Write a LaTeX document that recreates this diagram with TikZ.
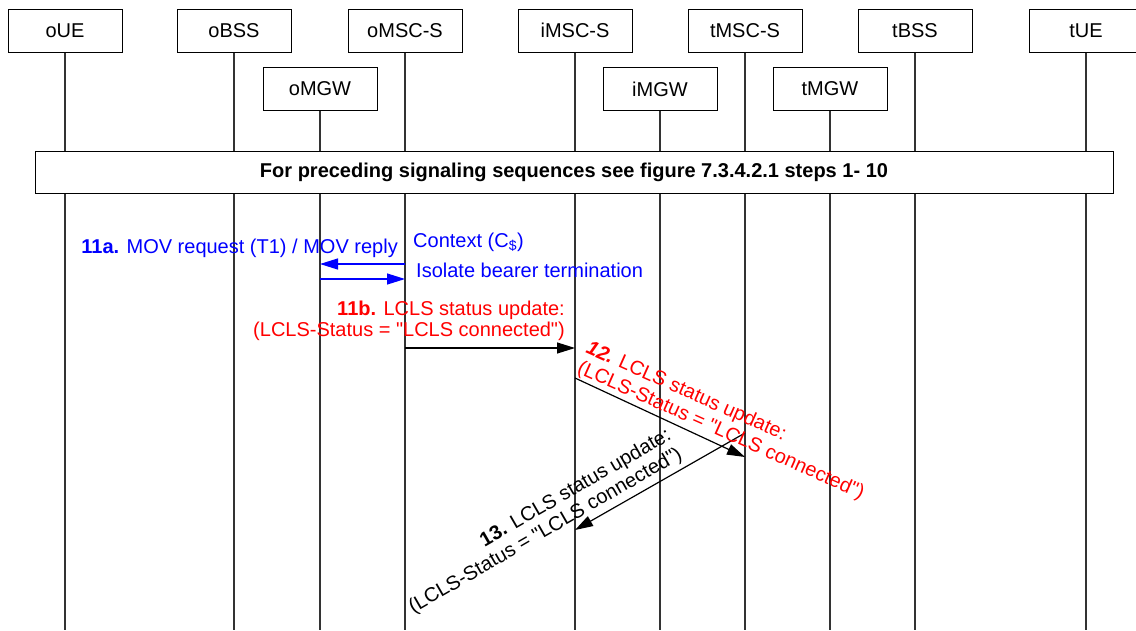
\documentclass[tikz,border=0pt]{standalone}
\usepackage{fontspec}
\setmainfont{Liberation Sans}[Ligatures=TeXOff]
\usetikzlibrary{arrows.meta}
\definecolor{lifeline}{HTML}{333333}
\begin{document}
\begin{tikzpicture}[x=1pt,y=-1pt,
  every node/.style={font=\fontsize{20}{21}\selectfont, inner sep=0pt},
  entity/.style={draw=black, line width=1pt, minimum width=114pt, minimum height=43pt, fill=white},
  life/.style={draw=lifeline, line width=1.3pt},
  msg/.style={line width=1.2pt, -{Triangle[length=18pt,width=11pt]}},
  bluemsg/.style={msg, draw=blue},
  blackmsg/.style={msg, draw=black},
  rotlabel/.style={font=\fontsize{20}{22}\selectfont},
  framebox/.style={draw=black, fill=white, line width=1pt, minimum width=1078pt, minimum height=42pt, font=\bfseries\fontsize{20}{21}\selectfont}
]
\useasboundingbox (0,0) rectangle (1136,630);
\fill[white] (0,0) rectangle (1136,630);

% entities
\node[entity] (oUE)  at (65,30.5)   {oUE};
\node[entity] (oBSS) at (234,30.5)  {oBSS};
\node[entity] (oMSC) at (405,30.5)  {oMSC-S};
\node[entity] (iMSC) at (575,30.5)  {iMSC-S};
\node[entity] (tMSC) at (745,30.5)  {tMSC-S};
\node[entity] (tBSS) at (915,30.5)  {tBSS};
\node[entity] (tUE)  at (1086,30.5) {tUE};
\node[entity] (oMGW) at (320,89)    {oMGW};
\node[entity] (iMGW) at (660,89)    {iMGW};
\node[entity] (tMGW) at (830,89)    {tMGW};

% lifelines
\foreach \n in {oUE,oBSS,oMSC,iMSC,tMSC,tBSS,tUE,oMGW,iMGW,tMGW}{
  \coordinate (\n-end) at (\n.south |- 0,630);
  \draw[life] (\n.south) -- (\n-end);
}

% preceding box
\node[framebox] (pre) at (574,172) {For preceding signaling sequences see figure 7.3.4.2.1 steps 1- 10};

% message end points
\coordinate (m1s) at (oMSC.south |- 0,264);
\coordinate (m1e) at (oMGW.south |- 0,264);
\coordinate (m2s) at (oMGW.south |- 0,279);
\coordinate (m2e) at (oMSC.south |- 0,279);
\coordinate (m3s) at (oMSC.south |- 0,348);
\coordinate (m3e) at (iMSC.south |- 0,348);
\coordinate (m4s) at (iMSC.south |- 0,378);
\coordinate (m4e) at (tMSC.south |- 0,457);
\coordinate (m5s) at (tMSC.south |- 0,433);
\coordinate (m5e) at (iMSC.south |- 0,530);

\draw[bluemsg] (m1s) -- (m1e);
\draw[bluemsg] (m2s) -- (m2e);
\draw[blackmsg] (m3s) -- (m3e);
\draw[blackmsg] (m4s) -- (m4e);
\draw[blackmsg] (m5s) -- (m5e);

% labels
\node[blue, anchor=base east] (t11a) at (398,253) {\textbf{11a.} MOV request (T1) / MOV reply};
\node[blue, anchor=base west] (tctx) at (413,247) {Context (C\textsubscript{\$})};
\node[blue, anchor=base west] (tiso) at (416,277) {Isolate bearer termination};
\node[red, align=right, anchor=north east] (t11b) at (565,300.5)
  {\textbf{11b.} LCLS status update:\\(LCLS-Status = "LCLS connected")};
\node[red, rotlabel, rotate=-24, align=left, anchor=north west] (t12) at (591,339)
  {\textbf{\textit{12.}} LCLS status update:\\(LCLS-Status = "LCLS connected")};
\node[black, rotlabel, rotate=30, align=right, anchor=north east] (t13) at (665,426)
  {\textbf{13.} LCLS status update:\\(LCLS-Status = "LCLS connected")};
\end{tikzpicture}
\end{document}
